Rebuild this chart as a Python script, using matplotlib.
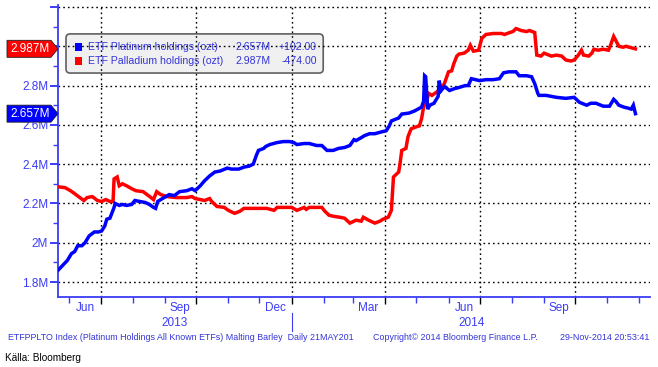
import matplotlib
matplotlib.use('Agg')
import matplotlib.pyplot as plt
import matplotlib.dates as mdates
import matplotlib.transforms as mtransforms
from matplotlib.patches import FancyBboxPatch, Polygon, Rectangle
from matplotlib.lines import Line2D
import pandas as pd

plt.rcParams['font.family'] = ['Liberation Sans', 'DejaVu Sans']

# ---------------- data ----------------
plat_dates = ['2013-05-21', '2013-05-30', '2013-06-03', '2013-06-06', '2013-06-09', '2013-06-13', '2013-06-16',
              '2013-06-20', '2013-06-25', '2013-06-29', '2013-07-02', '2013-07-05', '2013-07-07', '2013-07-10',
              '2013-07-14', '2013-07-15', '2013-07-19', '2013-07-22', '2013-07-26', '2013-07-31', '2013-08-03',
              '2013-08-08', '2013-08-13', '2013-08-17', '2013-08-21', '2013-08-23', '2013-08-25', '2013-08-28',
              '2013-09-05', '2013-09-10', '2013-09-15', '2013-09-22', '2013-09-27', '2013-09-30', '2013-10-05',
              '2013-10-09', '2013-10-14', '2013-10-19', '2013-10-24', '2013-10-31', '2013-11-04', '2013-11-11',
              '2013-11-16', '2013-11-21', '2013-11-25', '2013-11-28', '2013-11-30', '2013-12-05', '2013-12-07',
              '2013-12-11', '2013-12-18', '2013-12-24', '2013-12-30', '2014-01-03', '2014-01-06', '2014-01-13',
              '2014-01-18', '2014-01-25', '2014-01-30', '2014-02-04', '2014-02-10', '2014-02-15', '2014-02-21',
              '2014-02-26', '2014-03-02', '2014-03-04', '2014-03-09', '2014-03-12', '2014-03-17', '2014-03-22',
              '2014-03-29', '2014-04-02', '2014-04-05', '2014-04-07', '2014-04-14', '2014-04-17', '2014-04-24',
              '2014-04-29', '2014-05-06', '2014-05-08', '2014-05-09', '2014-05-10', '2014-05-12', '2014-05-14',
              '2014-05-18', '2014-05-22', '2014-05-23', '2014-05-25', '2014-05-28', '2014-06-02', '2014-06-07',
              '2014-06-11', '2014-06-17', '2014-06-20', '2014-06-23', '2014-07-01', '2014-07-07', '2014-07-14',
              '2014-07-20', '2014-07-24', '2014-07-29', '2014-08-05', '2014-08-08', '2014-08-15', '2014-08-20',
              '2014-08-23', '2014-08-26', '2014-08-27', '2014-09-03', '2014-09-13', '2014-09-22', '2014-09-30',
              '2014-10-05', '2014-10-12', '2014-10-16', '2014-10-21', '2014-10-28', '2014-11-03', '2014-11-07',
              '2014-11-09', '2014-11-12', '2014-11-17', '2014-11-21', '2014-11-24', '2014-11-26', '2014-11-28']
plat_vals = [1.86, 1.91, 1.945, 1.955, 1.985, 1.985, 2.00,
             2.035, 2.055, 2.055, 2.06, 2.085, 2.12, 2.125,
             2.18, 2.20, 2.19, 2.195, 2.19, 2.195, 2.215,
             2.21, 2.205, 2.195, 2.18, 2.175, 2.21, 2.22,
             2.245, 2.24, 2.26, 2.265, 2.275, 2.265, 2.29,
             2.315, 2.34, 2.36, 2.365, 2.38, 2.375, 2.375,
             2.385, 2.39, 2.40, 2.445, 2.47, 2.48, 2.49,
             2.50, 2.51, 2.515, 2.515, 2.51, 2.50, 2.505,
             2.505, 2.495, 2.495, 2.47, 2.47, 2.48, 2.485,
             2.495, 2.525, 2.52, 2.535, 2.545, 2.555, 2.555,
             2.565, 2.57, 2.595, 2.62, 2.635, 2.655, 2.66,
             2.67, 2.69, 2.72, 2.85, 2.845, 2.68, 2.70,
             2.71, 2.745, 2.825, 2.775, 2.795, 2.775, 2.785,
             2.79, 2.80, 2.80, 2.835, 2.825, 2.83, 2.83,
             2.835, 2.865, 2.87, 2.87, 2.85, 2.85, 2.845,
             2.81, 2.76, 2.75, 2.75, 2.74, 2.735, 2.74,
             2.715, 2.70, 2.71, 2.71, 2.695, 2.695, 2.73,
             2.72, 2.70, 2.69, 2.685, 2.68, 2.70, 2.657]

pall_dates = ['2013-05-21', '2013-05-28', '2013-06-02', '2013-06-06', '2013-06-11', '2013-06-15', '2013-06-18',
              '2013-06-23', '2013-06-28', '2013-07-02', '2013-07-06', '2013-07-10', '2013-07-13', '2013-07-14',
              '2013-07-17', '2013-07-19', '2013-07-22', '2013-07-26', '2013-07-31', '2013-08-04', '2013-08-11',
              '2013-08-16', '2013-08-21', '2013-08-24', '2013-08-28', '2013-09-03', '2013-09-12', '2013-09-22',
              '2013-09-27', '2013-09-30', '2013-10-05', '2013-10-09', '2013-10-14', '2013-10-16', '2013-10-21',
              '2013-10-28', '2013-11-01', '2013-11-07', '2013-11-12', '2013-11-16', '2013-11-24', '2013-12-01',
              '2013-12-08', '2013-12-15', '2013-12-18', '2013-12-24', '2014-01-01', '2014-01-06', '2014-01-13',
              '2014-01-15', '2014-01-18', '2014-01-25', '2014-01-30', '2014-02-02', '2014-02-06', '2014-02-10',
              '2014-02-16', '2014-02-21', '2014-02-26', '2014-03-04', '2014-03-09', '2014-03-11', '2014-03-16',
              '2014-03-22', '2014-03-27', '2014-03-30', '2014-04-04', '2014-04-07', '2014-04-09', '2014-04-14',
              '2014-04-15', '2014-04-17', '2014-04-21', '2014-04-23', '2014-04-26', '2014-05-01', '2014-05-04',
              '2014-05-06', '2014-05-08', '2014-05-11', '2014-05-13', '2014-05-16', '2014-05-20', '2014-05-25',
              '2014-05-28', '2014-06-01', '2014-06-04', '2014-06-06', '2014-06-09', '2014-06-11', '2014-06-16',
              '2014-06-20', '2014-06-22', '2014-06-25', '2014-06-30', '2014-07-03', '2014-07-07', '2014-07-14',
              '2014-07-22', '2014-07-25', '2014-07-30', '2014-08-02', '2014-08-05', '2014-08-10', '2014-08-15',
              '2014-08-18', '2014-08-23', '2014-08-25', '2014-08-29', '2014-09-01', '2014-09-08', '2014-09-13',
              '2014-09-18', '2014-09-22', '2014-09-27', '2014-09-30', '2014-10-04', '2014-10-07', '2014-10-09',
              '2014-10-14', '2014-10-17', '2014-10-19', '2014-10-23', '2014-10-28', '2014-11-02', '2014-11-04',
              '2014-11-07', '2014-11-09', '2014-11-12', '2014-11-16', '2014-11-19', '2014-11-22', '2014-11-28']
pall_vals = [2.285, 2.28, 2.265, 2.25, 2.23, 2.215, 2.23,
             2.235, 2.215, 2.21, 2.22, 2.21, 2.21, 2.325,
             2.335, 2.29, 2.30, 2.29, 2.275, 2.265, 2.26,
             2.24, 2.22, 2.26, 2.245, 2.235, 2.23, 2.23,
             2.235, 2.225, 2.22, 2.215, 2.225, 2.21, 2.185,
             2.18, 2.165, 2.15, 2.16, 2.175, 2.175, 2.175,
             2.175, 2.165, 2.18, 2.18, 2.18, 2.165, 2.18,
             2.17, 2.18, 2.18, 2.18, 2.16, 2.14, 2.135,
             2.13, 2.125, 2.10, 2.115, 2.11, 2.13, 2.115,
             2.10, 2.11, 2.12, 2.13, 2.165, 2.335, 2.36,
             2.39, 2.47, 2.48, 2.54, 2.58, 2.59, 2.595,
             2.63, 2.69, 2.725, 2.76, 2.75, 2.765, 2.785,
             2.81, 2.87, 2.875, 2.91, 2.95, 2.96, 2.965,
             2.98, 3.005, 2.975, 2.98, 3.04, 3.06, 3.065,
             3.065, 3.06, 3.07, 3.075, 3.09, 3.08, 3.075,
             3.08, 3.07, 2.955, 2.95, 2.965, 2.95, 2.955,
             2.95, 2.93, 2.925, 2.93, 2.955, 2.98, 2.955,
             2.95, 2.965, 2.985, 2.98, 2.985, 2.98, 3.005,
             3.05, 3.03, 3.00, 2.995, 3.00, 2.995, 2.987]

series_names = ['ETF Platinum holdings (ozt)', 'ETF Palladium holdings (ozt)']
series_last = ['2.657M', '2.987M']
series_change = ['+102.00', '-474.00']
last_values = [2.657, 2.987]

month_labels = ['Jun', 'Sep', 'Dec', 'Mar', 'Jun', 'Sep']
month_label_dates = ['2013-06-16', '2013-09-15', '2013-12-16', '2014-03-16', '2014-06-16', '2014-09-15']
year_labels = ['2013', '2014']
year_label_dates = ['2013-09-10', '2014-06-23']
y_ticks = [1.8, 2.0, 2.2, 2.4, 2.6, 2.8, 3.0, 3.2]
y_tick_labels = ['1.8M', '2M', '2.2M', '2.4M', '2.6M', '2.8M', '', '']

footer_left = 'ETFPPLTO Index (Platinum Holdings All Known ETFs) Malting Barley  Daily 21MAY201'
footer_mid = 'Copyright\u00a9 2014 Bloomberg Finance L.P.'
footer_right = '29-Nov-2014 20:53:41'
source_text = 'Källa: Bloomberg'

# ---------------- style ----------------
BLUE = '#0000ff'
RED = '#ff0000'
AXBLUE = '#3c3cf5'
TXTBLUE = '#3434d8'

W, H = 658, 367
fig = plt.figure(figsize=(W / 100, H / 100), dpi=100)
ax_l, ax_r, ax_b, ax_t = 58, 650, 297, 5
ax = fig.add_axes([ax_l / W, 1 - ax_b / H, (ax_r - ax_l) / W, (ax_b - ax_t) / H])

pd_plat = pd.to_datetime(plat_dates)
pd_pall = pd.to_datetime(pall_dates)

ax.plot(pd_pall, pall_vals, color=RED, lw=2.5, zorder=3, solid_joinstyle='miter')
ax.plot(pd_plat, plat_vals, color=BLUE, lw=2.5, zorder=4, solid_joinstyle='miter')

ax.set_xlim(pd.Timestamp('2013-05-21'), pd.Timestamp('2014-12-12'))
ax.set_ylim(1.724, 3.21)

for s in ['top', 'right']:
    ax.spines[s].set_visible(False)
for s in ['left', 'bottom']:
    ax.spines[s].set_color(AXBLUE)
    ax.spines[s].set_linewidth(1.3)

# y axis
ax.set_yticks(y_ticks)
ax.set_yticklabels(y_tick_labels)
ax.yaxis.set_minor_locator(matplotlib.ticker.MultipleLocator(0.1))
ax.tick_params(axis='y', which='major', direction='out', length=6, width=1.4,
               color=AXBLUE, labelcolor=AXBLUE, labelsize=8.5, pad=1)
ax.tick_params(axis='y', which='minor', direction='out', length=3.5, width=1, color=AXBLUE)

# x axis
ax.xaxis.set_major_locator(mdates.MonthLocator(bymonth=[1, 4, 7, 10]))
ax.xaxis.set_minor_locator(mdates.MonthLocator())
ax.xaxis.set_major_formatter(matplotlib.ticker.NullFormatter())
ax.tick_params(axis='x', which='major', direction='out', length=5, width=1, color='black')
ax.tick_params(axis='x', which='minor', direction='out', length=4, width=1, color=AXBLUE)

ax.set_axisbelow('line')
ax.grid(True, which='major', color='black', linestyle=(0, (1.2, 2.2)), linewidth=1.0)

# month & year labels
tr = mtransforms.blended_transform_factory(ax.transData, ax.transAxes)
for lab, d in zip(month_labels, month_label_dates):
    ax.text(pd.Timestamp(d), -0.036, lab, transform=tr, ha='center', va='center',
            color=AXBLUE, fontsize=8.5)
for lab, d in zip(year_labels, year_label_dates):
    ax.text(pd.Timestamp(d), -0.088, lab, transform=tr, ha='center', va='center',
            color=AXBLUE, fontsize=8.5)
ax.add_line(Line2D([pd.Timestamp('2014-01-01')] * 2, [-0.055, -0.118], transform=tr,
                   color=AXBLUE, lw=0.8, clip_on=False))

# legend box
box = FancyBboxPatch((0.0135, 0.767), 0.4345, 0.134, transform=ax.transAxes,
                     boxstyle='round,pad=0,rounding_size=0.007', facecolor='#f0f0f0',
                     edgecolor='#606060', lw=1.2, zorder=1, mutation_aspect=2.0)
ax.add_patch(box)
rows_y = [0.856, 0.808]
colors = [BLUE, RED]
for yy, c, nm, lv, ch in zip(rows_y, colors, series_names, series_last, series_change):
    ax.add_patch(Rectangle((0.028, yy - 0.015), 0.0125, 0.030, transform=ax.transAxes,
                           facecolor=c, edgecolor='none', zorder=3))
    ax.text(0.0505, yy, nm, transform=ax.transAxes, va='center', ha='left',
            color=TXTBLUE, fontsize=7.6, zorder=3)
    ax.text(0.300, yy, lv, transform=ax.transAxes, va='center', ha='left',
            color=TXTBLUE, fontsize=7.6, zorder=3)
    ax.text(0.4375, yy, ch, transform=ax.transAxes, va='center', ha='right',
            color=TXTBLUE, fontsize=7.6, zorder=3)

# last-value tags on the left axis
ppu = (ax_b - ax_t) / (3.21 - 1.724)  # pixels per data unit
hh = 8.5 / ppu
trb = mtransforms.blended_transform_factory(ax.transAxes, ax.transData)
axw = ax_r - ax_l
for v, c, lab in zip(last_values, [BLUE, RED], series_last):
    x0 = (7 - ax_l) / axw
    x1 = (51 - ax_l) / axw
    xt = (58 - ax_l) / axw
    poly = Polygon([(x0, v - hh), (x1, v - hh), (xt, v), (x1, v + hh), (x0, v + hh)],
                   closed=True, transform=trb, facecolor=c, edgecolor='#202020', lw=0.6,
                   clip_on=False, zorder=6)
    ax.add_patch(poly)
    ax.text((x0 + x1) / 2 + 0.002, v, lab, transform=trb, ha='center', va='center',
            color='white', fontsize=8.5, zorder=7, clip_on=False)

# footer
fig.text(8 / W, 1 - 338 / H, footer_left, color=TXTBLUE, fontsize=6.4, va='center', ha='left')
fig.text(373 / W, 1 - 338 / H, footer_mid, color=TXTBLUE, fontsize=6.4, va='center', ha='left')
fig.text(649 / W, 1 - 338 / H, footer_right, color=TXTBLUE, fontsize=6.4, va='center', ha='right')
fig.text(5 / W, 1 - 358 / H, source_text, color='black', fontsize=7.2, va='center', ha='left',
         family=['Liberation Sans Narrow', 'Liberation Sans', 'DejaVu Sans'])

fig.savefig('out.png', dpi=100)
